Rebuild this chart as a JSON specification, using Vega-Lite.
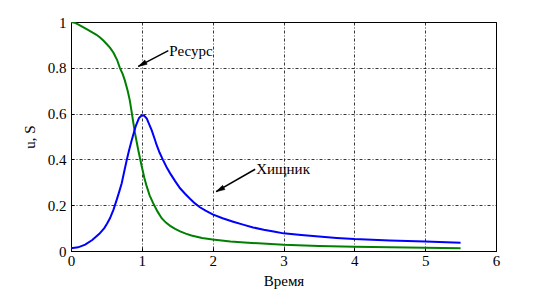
{
  "$schema": "https://vega.github.io/schema/vega-lite/v6.json",
  "width": 425,
  "height": 229,
  "autosize": {"type": "none"},
  "padding": {"left": 71, "top": 22, "right": 53, "bottom": 42},
  "background": "white",
  "config": {
    "font": "'Liberation Serif', serif",
    "view": {"stroke": "black", "strokeWidth": 1},
    "axis": {
      "domainColor": "black",
      "domainWidth": 1,
      "grid": true,
      "gridColor": "black",
      "gridDash": [3, 2, 1, 2],
      "gridOpacity": 1,
      "gridWidth": 0.8,
      "ticks": true,
      "tickSize": -3,
      "tickColor": "black",
      "labelFont": "'Liberation Serif', serif",
      "labelFontSize": 15,
      "labelColor": "black",
      "titleFont": "'Liberation Serif', serif",
      "titleFontSize": 15,
      "titleFontWeight": "normal",
      "titleColor": "black"
    }
  },
  "datasets": {
    "curves": [
      {"t": 0, "v": 1.0, "series": "Ресурс"},
      {"t": 0.05, "v": 0.997, "series": "Ресурс"},
      {"t": 0.1, "v": 0.99, "series": "Ресурс"},
      {"t": 0.17, "v": 0.978, "series": "Ресурс"},
      {"t": 0.24, "v": 0.966, "series": "Ресурс"},
      {"t": 0.3, "v": 0.955, "series": "Ресурс"},
      {"t": 0.36, "v": 0.944, "series": "Ресурс"},
      {"t": 0.41, "v": 0.932, "series": "Ресурс"},
      {"t": 0.46, "v": 0.918, "series": "Ресурс"},
      {"t": 0.5, "v": 0.905, "series": "Ресурс"},
      {"t": 0.55, "v": 0.888, "series": "Ресурс"},
      {"t": 0.6, "v": 0.866, "series": "Ресурс"},
      {"t": 0.65, "v": 0.835, "series": "Ресурс"},
      {"t": 0.69, "v": 0.8, "series": "Ресурс"},
      {"t": 0.73, "v": 0.772, "series": "Ресурс"},
      {"t": 0.76, "v": 0.745, "series": "Ресурс"},
      {"t": 0.8, "v": 0.7, "series": "Ресурс"},
      {"t": 0.83, "v": 0.658, "series": "Ресурс"},
      {"t": 0.86, "v": 0.6, "series": "Ресурс"},
      {"t": 0.9, "v": 0.52, "series": "Ресурс"},
      {"t": 0.95, "v": 0.44, "series": "Ресурс"},
      {"t": 1.0, "v": 0.368, "series": "Ресурс"},
      {"t": 1.035, "v": 0.32, "series": "Ресурс"},
      {"t": 1.07, "v": 0.281, "series": "Ресурс"},
      {"t": 1.11, "v": 0.243, "series": "Ресурс"},
      {"t": 1.16, "v": 0.209, "series": "Ресурс"},
      {"t": 1.22, "v": 0.173, "series": "Ресурс"},
      {"t": 1.28, "v": 0.143, "series": "Ресурс"},
      {"t": 1.34, "v": 0.124, "series": "Ресурс"},
      {"t": 1.4, "v": 0.11, "series": "Ресурс"},
      {"t": 1.47, "v": 0.097, "series": "Ресурс"},
      {"t": 1.54, "v": 0.086, "series": "Ресурс"},
      {"t": 1.62, "v": 0.076, "series": "Ресурс"},
      {"t": 1.7, "v": 0.068, "series": "Ресурс"},
      {"t": 1.85, "v": 0.057, "series": "Ресурс"},
      {"t": 2.0, "v": 0.05, "series": "Ресурс"},
      {"t": 2.25, "v": 0.042, "series": "Ресурс"},
      {"t": 2.5, "v": 0.036, "series": "Ресурс"},
      {"t": 3.0, "v": 0.027, "series": "Ресурс"},
      {"t": 3.5, "v": 0.022, "series": "Ресурс"},
      {"t": 4.0, "v": 0.019, "series": "Ресурс"},
      {"t": 4.5, "v": 0.016, "series": "Ресурс"},
      {"t": 5.0, "v": 0.014, "series": "Ресурс"},
      {"t": 5.5, "v": 0.012, "series": "Ресурс"},
      {"t": 0, "v": 0.012, "series": "Хищник"},
      {"t": 0.1, "v": 0.016, "series": "Хищник"},
      {"t": 0.2, "v": 0.028, "series": "Хищник"},
      {"t": 0.3, "v": 0.048, "series": "Хищник"},
      {"t": 0.4, "v": 0.075, "series": "Хищник"},
      {"t": 0.47, "v": 0.1, "series": "Хищник"},
      {"t": 0.51, "v": 0.12, "series": "Хищник"},
      {"t": 0.55, "v": 0.143, "series": "Хищник"},
      {"t": 0.6, "v": 0.181, "series": "Хищник"},
      {"t": 0.645, "v": 0.223, "series": "Хищник"},
      {"t": 0.68, "v": 0.258, "series": "Хищник"},
      {"t": 0.716, "v": 0.296, "series": "Хищник"},
      {"t": 0.75, "v": 0.345, "series": "Хищник"},
      {"t": 0.787, "v": 0.397, "series": "Хищник"},
      {"t": 0.82, "v": 0.44, "series": "Хищник"},
      {"t": 0.857, "v": 0.484, "series": "Хищник"},
      {"t": 0.89, "v": 0.52, "series": "Хищник"},
      {"t": 0.918, "v": 0.549, "series": "Хищник"},
      {"t": 0.96, "v": 0.58, "series": "Хищник"},
      {"t": 1.0, "v": 0.593, "series": "Хищник"},
      {"t": 1.035, "v": 0.59, "series": "Хищник"},
      {"t": 1.07, "v": 0.578, "series": "Хищник"},
      {"t": 1.1, "v": 0.556, "series": "Хищник"},
      {"t": 1.14, "v": 0.527, "series": "Хищник"},
      {"t": 1.18, "v": 0.49, "series": "Хищник"},
      {"t": 1.21, "v": 0.462, "series": "Хищник"},
      {"t": 1.25, "v": 0.43, "series": "Хищник"},
      {"t": 1.3, "v": 0.397, "series": "Хищник"},
      {"t": 1.35, "v": 0.366, "series": "Хищник"},
      {"t": 1.4, "v": 0.339, "series": "Хищник"},
      {"t": 1.47, "v": 0.305, "series": "Хищник"},
      {"t": 1.54, "v": 0.274, "series": "Хищник"},
      {"t": 1.61, "v": 0.25, "series": "Хищник"},
      {"t": 1.68, "v": 0.228, "series": "Хищник"},
      {"t": 1.75, "v": 0.208, "series": "Хищник"},
      {"t": 1.82, "v": 0.191, "series": "Хищник"},
      {"t": 1.9, "v": 0.176, "series": "Хищник"},
      {"t": 2.0, "v": 0.16, "series": "Хищник"},
      {"t": 2.14, "v": 0.143, "series": "Хищник"},
      {"t": 2.29, "v": 0.128, "series": "Хищник"},
      {"t": 2.43, "v": 0.115, "series": "Хищник"},
      {"t": 2.57, "v": 0.103, "series": "Хищник"},
      {"t": 2.72, "v": 0.093, "series": "Хищник"},
      {"t": 2.88, "v": 0.084, "series": "Хищник"},
      {"t": 3.0, "v": 0.077, "series": "Хищник"},
      {"t": 3.25, "v": 0.07, "series": "Хищник"},
      {"t": 3.5, "v": 0.063, "series": "Хищник"},
      {"t": 3.75, "v": 0.057, "series": "Хищник"},
      {"t": 4.0, "v": 0.052, "series": "Хищник"},
      {"t": 4.5, "v": 0.046, "series": "Хищник"},
      {"t": 5.0, "v": 0.041, "series": "Хищник"},
      {"t": 5.5, "v": 0.036, "series": "Хищник"}
    ],
    "arrows": [
      {"x1": 1.374, "y1": 0.875, "x2": 0.95, "y2": 0.806, "label": "Ресурс"},
      {"x1": 2.6, "y1": 0.357, "x2": 2.048, "y2": 0.259, "label": "Хищник"}
    ]
  },
  "layer": [
    {
      "data": {"name": "curves"},
      "mark": {"type": "line", "strokeWidth": 2, "clip": true},
      "encoding": {
        "x": {
          "field": "t", "type": "quantitative",
          "scale": {"domain": [0, 6], "nice": false, "zero": false},
          "axis": {"values": [0, 1, 2, 3, 4, 5, 6], "format": "~g", "title": "Время", "labelPadding": 5, "titlePadding": 5, "labelFlush": false}
        },
        "y": {
          "field": "v", "type": "quantitative",
          "scale": {"domain": [0, 1], "nice": false},
          "axis": {"values": [0, 0.2, 0.4, 0.6, 0.8, 1], "format": "~g", "title": "u, S", "labelPadding": 8, "titlePadding": 10, "labelFlush": false}
        },
        "color": {
          "field": "series", "type": "nominal",
          "scale": {"domain": ["Ресурс", "Хищник"], "range": ["#008000", "#0000ff"]},
          "legend": null
        }
      }
    },
    {
      "data": {"name": "arrows"},
      "mark": {"type": "rule", "color": "black", "strokeWidth": 1.5},
      "encoding": {
        "x": {"field": "x1", "type": "quantitative"},
        "y": {"field": "y1", "type": "quantitative"},
        "x2": {"field": "x2"},
        "y2": {"field": "y2"}
      }
    },
    {
      "data": {"name": "arrows"},
      "mark": {"type": "point", "shape": "M0,0L0.6,2.2L-0.6,2.2Z", "filled": true, "fill": "black", "stroke": "black", "strokeWidth": 0.5, "opacity": 1, "fillOpacity": 1, "size": 64, "angle": 241},
      "encoding": {
        "x": {"field": "x2", "type": "quantitative"},
        "y": {"field": "y2", "type": "quantitative"}
      }
    },
    {
      "data": {"name": "arrows"},
      "mark": {"type": "text", "font": "'Liberation Serif', serif", "fontSize": 15, "align": "left", "baseline": "middle", "dx": 1, "color": "black"},
      "encoding": {
        "x": {"field": "x1", "type": "quantitative"},
        "y": {"field": "y1", "type": "quantitative"},
        "text": {"field": "label"}
      }
    }
  ]
}
